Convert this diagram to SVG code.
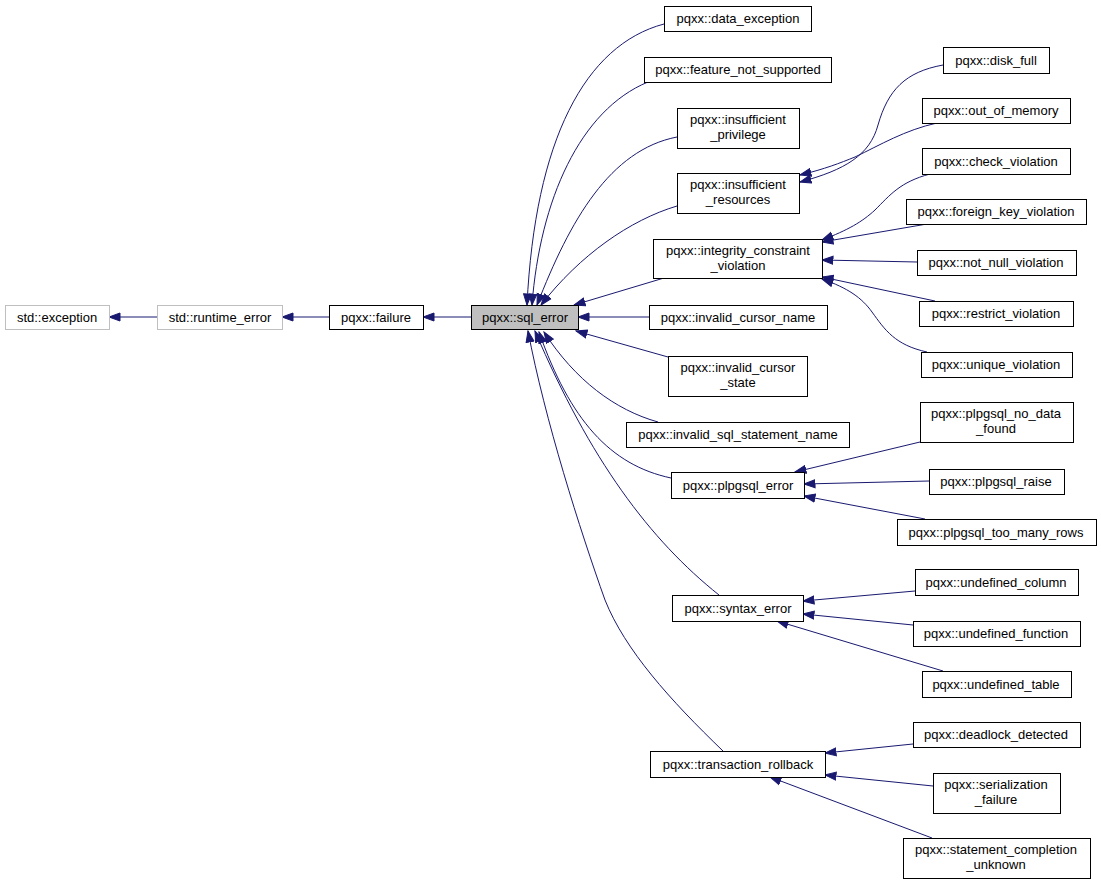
<svg xmlns="http://www.w3.org/2000/svg" width="1101" height="885" viewBox="0 0 1101 885">
<style>
.n rect{fill:#fff;stroke:#000;stroke-width:1}
.g rect{fill:#fff;stroke:#bfbfbf;stroke-width:1}
.h rect{fill:#bfbfbf;stroke:#000;stroke-width:1}
text{font-family:"Liberation Sans",Arial,sans-serif;font-size:13px;fill:#000;text-anchor:middle}
#edges path{fill:none;stroke:#191970;stroke-width:1;marker-end:url(#ah)}
</style>
<defs>
<marker id="ah" markerUnits="userSpaceOnUse" markerWidth="13" markerHeight="10" refX="11.5" refY="5" orient="auto">
<path d="M0.5,1 L11.5,5 L0.5,9 z" fill="#191970" stroke="#191970" stroke-width="1"/>
</marker>
</defs>
<rect width="1101" height="885" fill="#fff"/>
<g id="edges">
<path d="M157,317 L109,317"/>
<path d="M329,317 L282,317"/>
<path d="M471,317 L423,317"/>
<path d="M649,317 L578,317"/>
<path d="M664,278 L574,305"/>
<path d="M668,357 L576,331"/>
<path d="M664,24 C585,45 535,140 527,305"/>
<path d="M648,82 C580,110 540,200 532,305"/>
<path d="M677,137 C610,150 570,220 537,305"/>
<path d="M677,206 C630,220 580,255 541,305"/>
<path d="M658,422 C615,410 575,380 544,332"/>
<path d="M671,478 C610,465 570,420 539,332"/>
<path d="M719,595 C650,540 590,460 535,331"/>
<path d="M723,751 C670,700 625,650 605,600 C580,530 545,420 528,331"/>
<path d="M943,65 C905,72 888,90 878,125 C870,155 845,170 800,182"/>
<path d="M937,123 C905,130 880,145 855,157 C840,163 825,169 800,175"/>
<path d="M930,174 C900,182 890,195 875,210 C862,222 848,230 822,240"/>
<path d="M927,224 L822,242"/>
<path d="M917,262 L822,260"/>
<path d="M935,301 L822,277"/>
<path d="M927,352 C895,345 885,330 872,312 C862,298 848,288 822,279"/>
<path d="M920,442 L795,472"/>
<path d="M929,481 L804,484"/>
<path d="M925,519 L804,496"/>
<path d="M915,591 L803,601"/>
<path d="M913,625 L803,614"/>
<path d="M943,671 L777,621"/>
<path d="M913,744 L825,753"/>
<path d="M933,786 L825,775"/>
<path d="M932,838 L770,777"/>
</g>
<g id="std_exception" class="g"><rect x="5.5" y="305.5" width="104" height="24"/><text x="57" y="322">std::exception</text></g>
<g id="std_runtime_error" class="g"><rect x="157.5" y="305.5" width="125" height="24"/><text x="220" y="322">std::runtime_error</text></g>
<g id="failure" class="n"><rect x="329.5" y="305.5" width="94" height="24"/><text x="376" y="322">pqxx::failure</text></g>
<g id="sql_error" class="h"><rect x="471.5" y="305.5" width="107" height="24"/><text x="525" y="322">pqxx::sql_error</text></g>
<g id="data_exception" class="n"><rect x="664.5" y="6.5" width="147" height="25"/><text x="738" y="23">pqxx::data_exception</text></g>
<g id="feature_not_supported" class="n"><rect x="644.5" y="57.5" width="187" height="25"/><text x="738" y="74">pqxx::feature_not_supported</text></g>
<g id="insufficient_privilege" class="n"><rect x="677.5" y="108.5" width="122" height="40"/><text x="738" y="124">pqxx::insufficient</text><text x="738" y="139">_privilege</text></g>
<g id="insufficient_resources" class="n"><rect x="677.5" y="173.5" width="122" height="40"/><text x="738" y="189">pqxx::insufficient</text><text x="738" y="204">_resources</text></g>
<g id="integrity_constraint_violation" class="n"><rect x="653.5" y="239.5" width="169" height="39"/><text x="738" y="255">pqxx::integrity_constraint</text><text x="738" y="270">_violation</text></g>
<g id="invalid_cursor_name" class="n"><rect x="649.5" y="305.5" width="178" height="24"/><text x="738" y="322">pqxx::invalid_cursor_name</text></g>
<g id="invalid_cursor_state" class="n"><rect x="668.5" y="356.5" width="139" height="40"/><text x="738" y="372">pqxx::invalid_cursor</text><text x="738" y="387">_state</text></g>
<g id="invalid_sql_statement_name" class="n"><rect x="626.5" y="422.5" width="223" height="25"/><text x="738" y="439">pqxx::invalid_sql_statement_name</text></g>
<g id="plpgsql_error" class="n"><rect x="671.5" y="472.5" width="133" height="26"/><text x="738" y="490">pqxx::plpgsql_error</text></g>
<g id="syntax_error" class="n"><rect x="672.5" y="595.5" width="131" height="26"/><text x="738" y="613">pqxx::syntax_error</text></g>
<g id="transaction_rollback" class="n"><rect x="650.5" y="751.5" width="175" height="26"/><text x="738" y="769">pqxx::transaction_rollback</text></g>
<g id="disk_full" class="n"><rect x="943.5" y="47.5" width="106" height="26"/><text x="996" y="65">pqxx::disk_full</text></g>
<g id="out_of_memory" class="n"><rect x="922.5" y="98.5" width="148" height="25"/><text x="996" y="115">pqxx::out_of_memory</text></g>
<g id="check_violation" class="n"><rect x="922.5" y="148.5" width="148" height="26"/><text x="996" y="166">pqxx::check_violation</text></g>
<g id="foreign_key_violation" class="n"><rect x="906.5" y="199.5" width="180" height="25"/><text x="996" y="216">pqxx::foreign_key_violation</text></g>
<g id="not_null_violation" class="n"><rect x="917.5" y="250.5" width="159" height="25"/><text x="996" y="267">pqxx::not_null_violation</text></g>
<g id="restrict_violation" class="n"><rect x="919.5" y="301.5" width="154" height="25"/><text x="996" y="318">pqxx::restrict_violation</text></g>
<g id="unique_violation" class="n"><rect x="921.5" y="352.5" width="151" height="25"/><text x="996" y="369">pqxx::unique_violation</text></g>
<g id="plpgsql_no_data_found" class="n"><rect x="920.5" y="402.5" width="153" height="40"/><text x="996" y="418">pqxx::plpgsql_no_data</text><text x="996" y="433">_found</text></g>
<g id="plpgsql_raise" class="n"><rect x="929.5" y="469.5" width="135" height="25"/><text x="996" y="486">pqxx::plpgsql_raise</text></g>
<g id="plpgsql_too_many_rows" class="n"><rect x="897.5" y="519.5" width="199" height="26"/><text x="996" y="537">pqxx::plpgsql_too_many_rows</text></g>
<g id="undefined_column" class="n"><rect x="915.5" y="569.5" width="163" height="26"/><text x="996" y="587">pqxx::undefined_column</text></g>
<g id="undefined_function" class="n"><rect x="913.5" y="621.5" width="167" height="25"/><text x="996" y="638">pqxx::undefined_function</text></g>
<g id="undefined_table" class="n"><rect x="922.5" y="671.5" width="149" height="26"/><text x="996" y="689">pqxx::undefined_table</text></g>
<g id="deadlock_detected" class="n"><rect x="913.5" y="722.5" width="167" height="25"/><text x="996" y="739">pqxx::deadlock_detected</text></g>
<g id="serialization_failure" class="n"><rect x="933.5" y="773.5" width="127" height="40"/><text x="996" y="789">pqxx::serialization</text><text x="996" y="804">_failure</text></g>
<g id="statement_completion_unknown" class="n"><rect x="903.5" y="838.5" width="187" height="40"/><text x="996" y="854">pqxx::statement_completion</text><text x="996" y="869">_unknown</text></g>
</svg>
